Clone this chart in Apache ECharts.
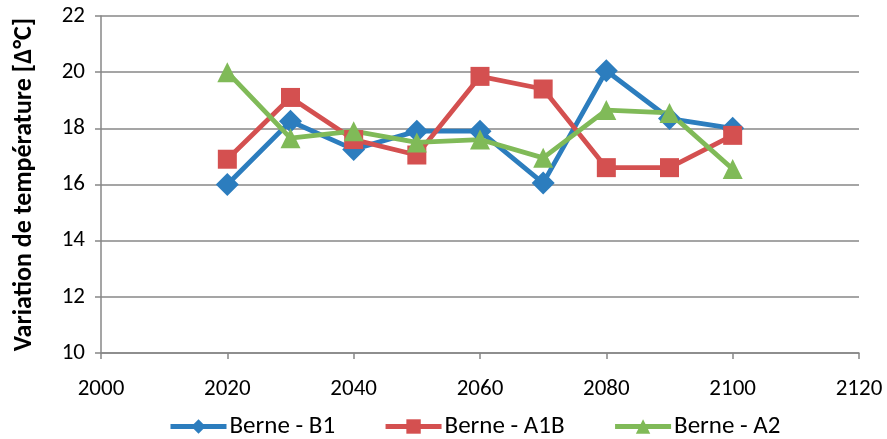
<!DOCTYPE html>
<html>
<head>
<meta charset="utf-8">
<script src="https://cdn.jsdelivr.net/npm/echarts@6/dist/echarts.min.js"></script>
<style>
  html, body { margin: 0; padding: 0; background: #fff; }
  #chart { width: 887px; height: 439px; }
</style>
</head>
<body>
<div id="chart"></div>
<script>
var years = [2020, 2030, 2040, 2050, 2060, 2070, 2080, 2090, 2100];
var berneB1  = [16.0, 18.25, 17.25, 17.9, 17.9, 16.05, 20.05, 18.35, 18.0];
var berneA1B = [16.9, 19.1, 17.6, 17.05, 19.85, 19.4, 16.6, 16.6, 17.75];
var berneA2  = [20.0, 17.65, 17.9, 17.5, 17.6, 16.95, 18.65, 18.55, 16.55];
var seriesNames = ['Berne - B1', 'Berne - A1B', 'Berne - A2'];

var font = "Carlito, Lato, 'Liberation Sans Narrow', 'Noto Sans', sans-serif";
var gridColor = '#878787';

function pairs(values) {
    return years.map(function (y, i) { return [y, values[i]]; });
}

function makeSeries(name, values, color, symbol, size) {
    return {
        name: name,
        type: 'line',
        data: pairs(values),
        symbol: symbol,
        symbolSize: size,
        lineStyle: { color: color, width: 4.8 },
        itemStyle: { color: color },
        z: 2
    };
}

var chart = echarts.init(document.getElementById('chart'));
chart.setOption({
    animation: false,
    textStyle: { fontFamily: font },
    grid: { left: 101, right: 28, top: 16, bottom: 86, containLabel: false },
    legend: {
        top: 409,
        left: 163,
        itemWidth: 56,
        itemHeight: 18,
        itemGap: 48,
        lineStyle: { width: 5 },
        textStyle: { fontSize: 25, color: '#000', fontFamily: font, padding: [0, 0, 0, -2] },
        data: seriesNames
    },
    xAxis: {
        type: 'value',
        min: 2000,
        max: 2120,
        interval: 20,
        axisLine: { lineStyle: { color: gridColor, width: 1.5 } },
        axisTick: { show: true, length: 6, lineStyle: { color: gridColor, width: 1.5 } },
        axisLabel: { fontSize: 23, color: '#000', margin: 25, formatter: function (v) { return String(v); } },
        splitLine: { show: false }
    },
    yAxis: {
        type: 'value',
        min: 10,
        max: 22,
        interval: 2,
        name: 'Variation de température [Δ°C]',
        nameLocation: 'middle',
        nameGap: 64,
        nameTextStyle: { fontSize: 26, fontWeight: 'bold', color: '#000' },
        axisLine: { show: true, lineStyle: { color: gridColor, width: 1.5 } },
        axisTick: { show: true, length: 6, lineStyle: { color: gridColor, width: 1.5 } },
        axisLabel: { fontSize: 23, color: '#000', margin: 16 },
        splitLine: { lineStyle: { color: gridColor, width: 1.5 } }
    },
    series: [
        makeSeries(seriesNames[0], berneB1, '#2C7DBE', 'diamond', 23),
        makeSeries(seriesNames[1], berneA1B, '#D45050', 'rect', 19),
        makeSeries(seriesNames[2], berneA2, '#80BA58', 'triangle', 20)
    ]
});
</script>
</body>
</html>
